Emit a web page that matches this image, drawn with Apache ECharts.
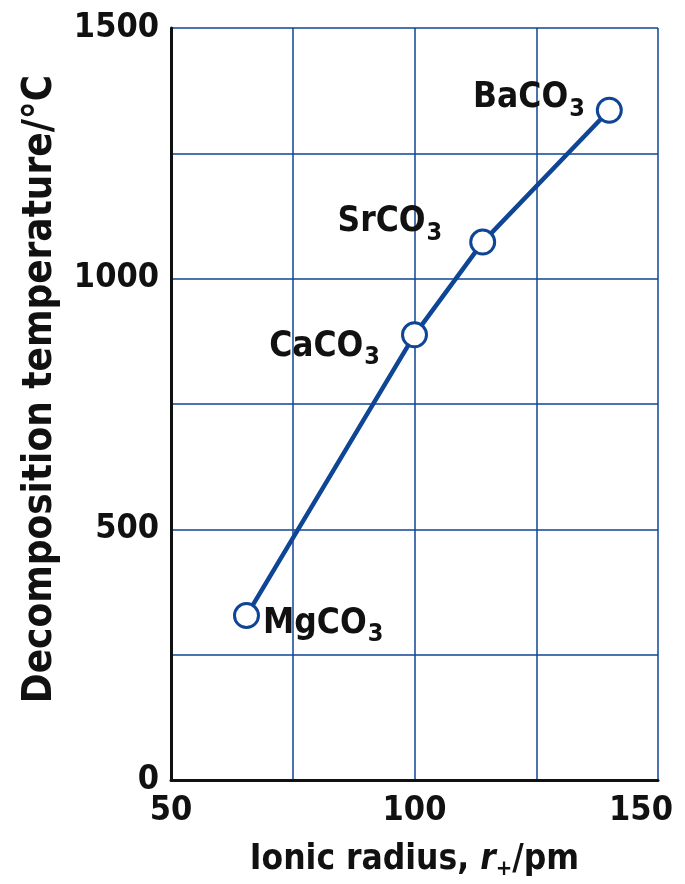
<!DOCTYPE html>
<html>
<head>
<meta charset="utf-8">
<script src="https://cdn.jsdelivr.net/npm/echarts@6/dist/echarts.min.js"></script>
<style>
  html, body { margin: 0; padding: 0; background: #fff; }
  #main { width: 685px; height: 884px; }
</style>
</head>
<body>
<div id="main"></div>
<script>
// carbonates: cation radius (pm) vs decomposition temperature (°C)
var compounds = ['Mg', 'Ca', 'Sr', 'Ba'];
var ionicRadius = [65.5, 100, 114, 140];
var decompTemp = [328, 888, 1073, 1336];
var xTicks = [50, 75, 100, 125, 150];
var yTicks = [0, 250, 500, 750, 1000, 1250, 1500];

var font = '"DejaVu Sans Condensed", "Liberation Sans Narrow", sans-serif';
var blue = '#0f4595';

// label placement per point
var labelPos = [
  {position: 'right', offset: [-2, 8]},
  {position: 'left', offset: [-16, 12]},
  {position: 'left', offset: [-22, -20]},
  {position: 'left', offset: [-6, -12]}
];

var data = [];
for (var i = 0; i < compounds.length; i++) {
  data.push({
    value: [ionicRadius[i], decompTemp[i]],
    name: compounds[i],
    label: labelPos[i]
  });
}

var myChart = echarts.init(document.getElementById('main'));
myChart.setOption({
  backgroundColor: '#fff',
  animation: false,
  grid: {left: 171, right: 27, top: 28, bottom: 104, outerBoundsMode: 'none', containLabel: false},
  xAxis: {
    type: 'value',
    min: 50,
    max: 150,
    interval: 25,
    name: '{a|Ionic radius, }{i|r}{s|+}{a|/pm}',
    nameLocation: 'middle',
    nameGap: 60,
    nameTextStyle: {
      rich: {
        a: {fontFamily: font, fontWeight: 'bold', fontSize: 35, color: '#111'},
        i: {fontFamily: font, fontWeight: 'bold', fontStyle: 'italic', fontSize: 35, color: '#111'},
        s: {fontFamily: font, fontWeight: 'bold', fontSize: 22, color: '#111', padding: [18, 0, 0, 0]}
      }
    },
    axisLine: {lineStyle: {color: '#111', width: 3}},
    axisTick: {show: false},
    axisLabel: {
      margin: 14,
      fontFamily: font,
      fontWeight: 'bold',
      fontSize: 34,
      color: '#111',
      formatter: function (v) {
        if (v === 150) return '{r|150}';
        return (v % 50 === 0) ? String(v) : '';
      },
      rich: {
        r: {fontFamily: font, fontWeight: 'bold', fontSize: 34, color: '#111', padding: [0, 34, 0, 0]}
      }
    },
    splitLine: {show: true, lineStyle: {color: blue, width: 1.5}}
  },
  yAxis: {
    type: 'value',
    min: 0,
    max: 1500,
    interval: 250,
    name: 'Decomposition temperature/°C',
    nameLocation: 'middle',
    nameGap: 110,
    nameTextStyle: {fontFamily: font, fontWeight: 'bold', fontSize: 40, color: '#111', padding: [0, 0, 0, 30]},
    axisLine: {show: true, lineStyle: {color: '#111', width: 3}},
    axisTick: {show: false},
    axisLabel: {
      margin: 12,
      fontFamily: font,
      fontWeight: 'bold',
      fontSize: 34,
      color: '#111',
      formatter: function (v) {
        return (v % 500 === 0) ? String(v) : '';
      }
    },
    splitLine: {show: true, lineStyle: {color: blue, width: 1.5}}
  },
  series: [{
    type: 'line',
    data: data,
    symbol: 'circle',
    symbolSize: 24,
    lineStyle: {color: blue, width: 4.5},
    itemStyle: {color: '#fff', borderColor: blue, borderWidth: 3},
    label: {
      show: true,
      formatter: '{m|{b}CO}{s|3}',
      rich: {
        m: {fontFamily: font, fontWeight: 'bold', fontSize: 35, color: '#111'},
        s: {fontFamily: font, fontWeight: 'bold', fontSize: 25, color: '#111', padding: [22, 0, 0, 1]}
      }
    },
    z: 3
  }]
});
</script>
</body>
</html>
